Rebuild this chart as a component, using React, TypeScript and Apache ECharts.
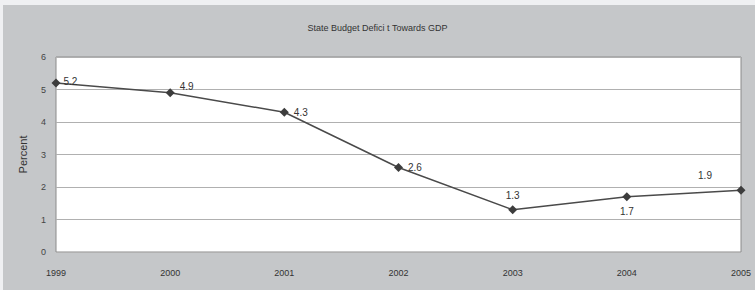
import React, { useEffect, useRef } from "react";
import * as echarts from "echarts";

const years = ["1999", "2000", "2001", "2002", "2003", "2004", "2005"];
const deficit = [5.2, 4.9, 4.3, 2.6, 1.3, 1.7, 1.9];
const labelPositions = ["right", "right", "right", "right", "top", "bottom", "top"];
const titleText = "State Budget Defici t Towards GDP";

export default function App() {
  const ref = useRef<HTMLDivElement>(null);
  useEffect(() => {
    if (!ref.current) return;
    const chart = echarts.init(ref.current, null, { renderer: "svg" });
    const data = deficit.map((v, i) => {
      const label: any = { position: labelPositions[i] };
      if (i === 0) label.offset = [-2, -2];
      if (i === 1) label.offset = [0, -6];
      if (i === 6) label.offset = [-36, 0];
      return { value: v, label };
    });
    chart.setOption({
      animation: false,
      backgroundColor: "#eff0f2",
      textStyle: { fontFamily: "Liberation Sans, Arial, sans-serif" },
      graphic: [
        {
          type: "rect",
          shape: { x: 3, y: 5, width: 752, height: 285 },
          style: { fill: "#c5c7c9" },
          z: -10,
          silent: true,
        },
      ],
      title: {
        text: titleText,
        left: "center",
        top: 18,
        textStyle: { fontSize: 9, fontWeight: "normal", color: "#333" },
      },
      grid: {
        left: 56,
        right: 14,
        top: 57,
        bottom: 38,
        show: true,
        backgroundColor: "#ffffff",
        borderColor: "#8a8a8a",
        borderWidth: 1,
      },
      xAxis: {
        type: "category",
        data: years,
        boundaryGap: false,
        axisLine: { show: false },
        axisTick: { show: false },
        axisLabel: { color: "#333", fontSize: 9, margin: 16 },
        splitLine: { show: false },
      },
      yAxis: {
        type: "value",
        min: 0,
        max: 6,
        interval: 1,
        name: "Percent",
        nameLocation: "middle",
        nameGap: 28,
        nameTextStyle: { color: "#333", fontSize: 11 },
        axisLine: { show: false },
        axisTick: { show: false },
        axisLabel: { color: "#444", fontSize: 9, margin: 10 },
        splitLine: { lineStyle: { color: "#b0b0b0", width: 1 } },
      },
      series: [
        {
          type: "line",
          data,
          symbol: "diamond",
          symbolSize: 9,
          lineStyle: { color: "#4a4a4a", width: 1.5 },
          itemStyle: { color: "#3d3d3d" },
          label: { show: true, color: "#333", fontSize: 10, distance: 5 },
        },
      ],
    });
    return () => chart.dispose();
  }, []);
  return (
    <div
      ref={ref}
      style={{ position: "absolute", left: 0, top: 0, width: 755, height: 290 }}
    />
  );
}
